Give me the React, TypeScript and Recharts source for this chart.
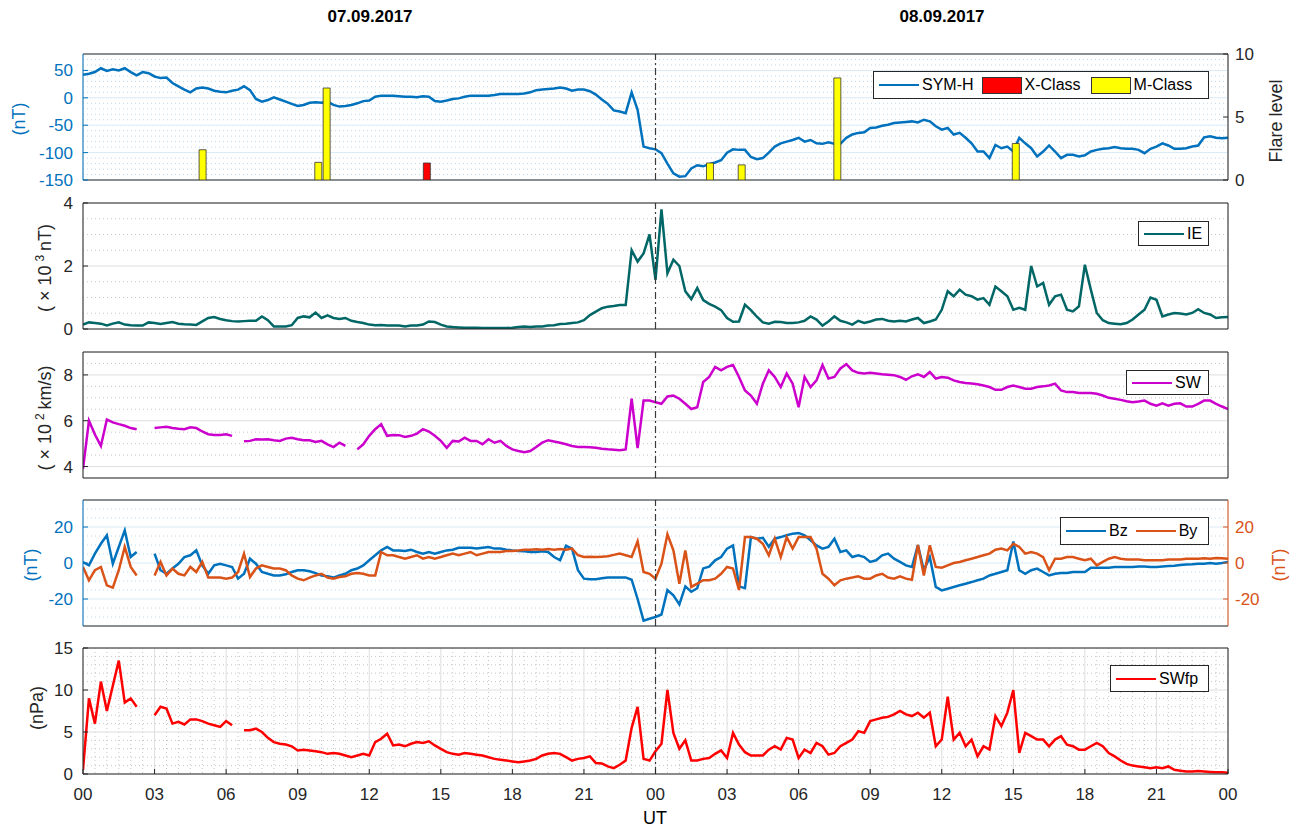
import React from "react";
import {
  ComposedChart,
  Line,
  Bar,
  Cell,
  XAxis,
  YAxis,
  CartesianGrid,
  ReferenceLine,
} from "recharts";

// hours since 07.09.2017 00 UT, 15 min steps (0 .. 48)
const hours: number[] = Array.from({ length: 193 }, (_, i) => i / 4);

// SYM-H (nT)
const symH = [
  42, 44, 47, 54, 49, 52, 50, 54, 47, 41, 47, 45,
  39, 36, 37, 27, 21, 15, 10, 17, 19, 17, 13, 11,
  10, 13, 15, 21, 14, -2, -7, -4, 1, -3, -7, -11,
  -15, -13, -9, -8, -9, -7, -13, -16, -15, -13, -10, -6,
  -5, 2, 4, 4, 4, 3, 2, 2, 1, 3, 2, -6,
  -7, -5, -2, -1, 2, 4, 4, 4, 4, 5, 7, 7,
  7, 7, 8, 10, 14, 15, 16, 17, 19, 17, 13, 15,
  15, 12, 6, -3, -11, -23, -25, -28, 10, -22, -89, -92,
  -94, -101, -120, -138, -144, -143, -129, -123, -125, -121, -118, -114,
  -100, -94, -95, -95, -108, -112, -110, -100, -89, -83, -80, -77,
  -73, -80, -77, -83, -84, -81, -84, -84, -73, -67, -64, -63,
  -55, -54, -51, -49, -46, -45, -44, -43, -45, -40, -43, -52,
  -58, -55, -67, -64, -73, -83, -98, -98, -110, -86, -92, -89,
  -98, -73, -83, -92, -107, -98, -87, -98, -110, -104, -104, -107,
  -105, -98, -95, -93, -92, -90, -92, -93, -93, -95, -101, -93,
  -89, -83, -87, -93, -93, -92, -89, -87, -72, -70, -73, -74,
  -73,
];

// IE (x 10^3 nT)
const ie = [
  0.14, 0.21, 0.19, 0.17, 0.11, 0.17, 0.21, 0.14, 0.12, 0.11, 0.11, 0.21,
  0.19, 0.16, 0.19, 0.22, 0.17, 0.15, 0.14, 0.13, 0.24, 0.35, 0.38, 0.32,
  0.28, 0.25, 0.24, 0.25, 0.26, 0.26, 0.4, 0.28, 0.08, 0.08, 0.08, 0.12,
  0.35, 0.4, 0.37, 0.52, 0.35, 0.43, 0.35, 0.32, 0.35, 0.26, 0.22, 0.19,
  0.14, 0.12, 0.13, 0.11, 0.11, 0.11, 0.08, 0.11, 0.11, 0.14, 0.24, 0.22,
  0.14, 0.08, 0.06, 0.05, 0.04, 0.04, 0.04, 0.03, 0.03, 0.03, 0.03, 0.03,
  0.04, 0.06, 0.08, 0.06, 0.08, 0.08, 0.11, 0.12, 0.16, 0.17, 0.19, 0.21,
  0.28, 0.44, 0.55, 0.66, 0.71, 0.73, 0.76, 0.76, 2.5, 2.14, 2.4, 3.0,
  1.56, 3.8, 1.77, 2.2, 2.0, 1.2, 0.95, 1.3, 0.92, 0.8, 0.71, 0.6,
  0.35, 0.23, 0.24, 0.77, 0.6, 0.39, 0.21, 0.17, 0.23, 0.22, 0.19, 0.19,
  0.21, 0.26, 0.4, 0.3, 0.11, 0.24, 0.4, 0.26, 0.21, 0.14, 0.26, 0.19,
  0.24, 0.3, 0.32, 0.26, 0.24, 0.26, 0.24, 0.3, 0.35, 0.19, 0.24, 0.3,
  0.61, 1.2, 1.04, 1.25, 1.09, 1.04, 0.93, 0.98, 0.77, 1.35, 1.2, 1.04,
  0.61, 0.67, 0.61, 2.0, 1.35, 1.46, 0.77, 1.04, 1.09, 0.61, 0.56, 0.72,
  2.04, 1.25, 0.51, 0.28, 0.19, 0.17, 0.15, 0.19, 0.3, 0.46, 0.61, 1.0,
  0.93, 0.4, 0.46, 0.51, 0.49, 0.46, 0.51, 0.63, 0.51, 0.46, 0.35, 0.37,
  0.38,
];

// solar wind speed (x 10^2 km/s), null = data gap
const sw = [
  3.9, 6.0, 5.4, 4.9, 6.05, 5.93, 5.85, 5.78, 5.68, 5.63, null, null,
  5.68, 5.71, 5.74, 5.68, 5.65, 5.63, 5.71, 5.68, 5.53, 5.41, 5.38, 5.38,
  5.41, 5.34, null, 5.1, 5.12, 5.19, 5.18, 5.19, 5.15, 5.12, 5.22, 5.26,
  5.19, 5.15, 5.15, 5.07, 5.12, 4.97, 4.85, 5.04, 4.9, null, 4.75, 4.97,
  5.34, 5.63, 5.85, 5.34, 5.38, 5.37, 5.29, 5.34, 5.44, 5.63, 5.53, 5.34,
  5.12, 4.82, 5.12, 5.09, 5.26, 5.12, 5.12, 4.97, 5.19, 5.04, 5.12, 4.9,
  4.75, 4.68, 4.63, 4.68, 4.85, 5.04, 5.15, 5.09, 5.04, 4.97, 4.9, 4.85,
  4.85, 4.84, 4.82, 4.78, 4.75, 4.73, 4.71, 4.75, 6.96, 4.8, 6.88, 6.88,
  6.81, 6.74, 7.06, 7.1, 6.96, 6.74, 6.51, 6.59, 7.69, 7.91, 8.35, 8.2,
  8.35, 8.43, 7.91, 7.32, 7.1, 6.74, 7.62, 8.2, 7.91, 7.47, 8.06, 7.62,
  6.59, 7.91, 7.47, 7.76, 8.43, 7.84, 7.91, 8.28, 8.47, 8.2, 8.09, 8.06,
  8.09, 8.06, 8.03, 8.01, 7.99, 7.91, 7.79, 7.94, 8.03, 7.91, 8.13, 7.84,
  7.91, 7.88, 7.76, 7.69, 7.65, 7.62, 7.59, 7.54, 7.47, 7.35, 7.35, 7.47,
  7.54, 7.47, 7.4, 7.4, 7.47, 7.5, 7.54, 7.62, 7.32, 7.25, 7.25, 7.21,
  7.21, 7.21, 7.18, 7.1, 7.0, 6.96, 6.91, 6.85, 6.81, 6.84, 6.88, 6.74,
  6.66, 6.76, 6.66, 6.74, 6.76, 6.62, 6.62, 6.74, 6.88, 6.88, 6.74, 6.62,
  6.51,
];

// IMF Bz (nT)
const bz = [
  0.5, -1.3, 5.2, 10.7, 15.4, -0.4, 8.9, 18.1, 3.3, 6.1, null, null,
  5.2, -4, -6, -3, -0.4, 3.3, 4.3, 7.0, -1.3, -6, -1.3, -0.4,
  -1.3, -2.2, -8.7, -6, 2.4, -0.4, -5, -6, -6.9, -6.9, -6.3, -5,
  -4, -4, -4.6, -5.6, -6.9, -7.4, -8.1, -6.9, -6, -4, -3.1, -1.3,
  1.5, 4.3, 7, 8.9, 7, 7, 6.7, 7.4, 6.1, 5.2, 6.1, 5.2,
  6.1, 7, 7.4, 8.5, 8.5, 8.5, 8, 8.5, 8.9, 8, 8, 7.4,
  7, 6.7, 6.5, 6.1, 6.1, 6.5, 6.1, 3.3, 1.5, 9.6, 8, -4,
  -8.7, -9, -9, -8.5, -8.1, -8, -8, -8, -9.3, -20, -32, -31,
  -30, -28.6, -15, -18, -23, -13, -16, -14, -3, -2, 1.5, 3.3,
  8, 9.8, -13, -14, 14.4, 13.5, 14, 9, 13.5, 14.4, 15.4, 16.3,
  16.7, 15.4, 12.6, 9.8, 8, 8.9, 13.5, 6.1, 7, 3.3, 4.3, 3.3,
  0.6, 1.5, 4.3, 5.2, 2.4, 0.6, -1.3, -2.2, 10, -4, 3.3, -13.3,
  -15.2, -14.3, -13.3, -12.4, -11.5, -10.6, -9.6, -8.7, -6.9, -6, -5, -4,
  12, -4, -6, -4, -3.1, -5, -6.9, -6, -5.6, -5.6, -5, -5,
  -5, -2.6, -2.6, -2.6, -2.6, -2.2, -2.2, -2.2, -2.2, -1.9, -1.9, -2.2,
  -2.2, -1.9, -1.7, -1.5, -1.1, -0.9, -0.7, -0.4, -0.4, 0, -0.4, 0,
  0.6,
];

// IMF By (nT)
const by = [
  -2.2, -9.6, -4, -2.2, -12.4, -13.7, -4, 8.9, -2.2, -6.9, null, null,
  -6.9, 0.6, -6.9, -3.1, -6, -6.9, -2.2, -5, 0.6, -8.1, -8.1, -8.1,
  -8.7, -8.1, -5, 5.2, -7.8, -3.1, -1.3, -2.2, -3.1, -3.1, -4, -6.9,
  -8.7, -9.6, -8.1, -6.9, -6, -8.1, -8.7, -7.8, -7.4, -6, -5.6, -6,
  -6.9, -6.9, 6.1, 4.3, 4.3, 3.3, 2.4, 3.3, 4.3, 2.4, 3.3, 2.4,
  3.3, 4.3, 5.2, 4.3, 5.2, 6.1, 4.3, 5.2, 6.1, 6.1, 6.1, 6.7,
  6.7, 7, 7.4, 7.4, 7.6, 7.4, 7.8, 7.4, 7.8, 7.4, 8, 4.3,
  3.3, 3.5, 3.3, 3.5, 3.7, 4.5, 5.2, 4.3, 3.3, 12, -5, -6,
  -8.7, -0.4, 16, 7, -11.5, 7, -13.3, -11.5, -9.6, -9.6, -8.7, -6,
  -2.2, -3.1, -15, 14.4, 14.4, 13.5, 10.7, 4.3, 13.5, 3.3, 14.4, 8,
  14.4, 14.4, 14.4, 8, -6, -8.7, -12.4, -9.6, -8.7, -8.1, -7.4, -8.7,
  -8.7, -6.9, -6, -8.1, -8.7, -7.4, -8.7, -9.3, 10, -7, 9.8, -2.2,
  -2.6, -1.3, 0, 0.6, 1.5, 2.4, 3.3, 4.3, 5.2, 7.4, 8, 7,
  10.7, 8.9, 5.2, 6.1, 5.2, 3.3, -4, 2.4, 2.4, 3.3, 3.3, 2.4,
  1.5, 2.4, -1.3, 0.6, 2.4, 3.3, 2.4, 1.9, 1.9, 1.9, 1.5, 1.5,
  1.5, 1.5, 1.9, 1.9, 2, 2.4, 2.4, 2.4, 2.6, 2.4, 2.8, 2.6,
  2.4,
];

// solar wind flow pressure (nPa)
const swfp = [
  0.5, 9.0, 6.0, 11.0, 7.5, 10.5, 13.5, 8.5, 9.0, 8.0, null, null,
  7.0, 8.0, 7.8, 6.0, 6.2, 5.9, 6.5, 6.5, 6.3, 6.0, 5.8, 5.6,
  6.3, 5.8, null, 5.2, 5.2, 5.4, 5.0, 4.3, 3.8, 3.6, 3.5, 3.3,
  2.8, 2.9, 2.8, 2.7, 2.6, 2.4, 2.5, 2.4, 2.2, 2.0, 2.2, 2.4,
  2.2, 3.8, 4.2, 4.8, 3.4, 3.5, 3.3, 3.6, 3.8, 3.7, 3.9, 3.4,
  3.0, 2.6, 2.4, 2.3, 2.5, 2.4, 2.3, 2.2, 2.0, 1.8, 1.7, 1.6,
  1.5, 1.4, 1.5, 1.6, 1.8, 2.2, 2.4, 2.5, 2.4, 2.0, 1.6, 1.8,
  1.9, 2.1, 1.3, 1.25, 0.9, 0.7, 1.1, 1.6, 5.5, 8.0, 1.8, 1.6,
  2.7, 3.6, 10.0, 4.9, 3.0, 4.0, 1.6, 1.6, 1.8, 1.9, 2.4, 2.8,
  1.9, 4.9, 3.5, 2.6, 2.2, 2.2, 2.2, 2.9, 3.3, 2.9, 4.3, 4.1,
  1.9, 2.9, 2.5, 3.7, 3.3, 2.3, 2.5, 3.3, 3.7, 4.1, 5.1, 4.9,
  6.3, 6.5, 6.7, 6.8, 7.1, 7.5, 7.1, 6.9, 7.3, 6.7, 7.3, 3.3,
  4.1, 9.2, 4.1, 4.9, 3.3, 4.1, 2.1, 3.3, 2.9, 6.9, 5.7, 7.3,
  10.0, 2.5, 4.9, 4.5, 4.1, 4.1, 3.3, 4.1, 4.5, 3.5, 3.3, 2.9,
  2.9, 3.3, 3.7, 3.3, 2.5, 2.1, 1.6, 1.2, 1.0, 0.9, 0.8, 0.7,
  0.8, 0.7, 0.9, 0.5, 0.4, 0.3, 0.3, 0.35, 0.3, 0.25, 0.2, 0.2,
  0.15,
];

// solar flares: time (h), level, class
const flareTimes = [5.0, 9.85, 10.2, 14.4, 26.27, 27.6, 31.61, 39.09];
const flareLevels = [2.4, 1.4, 7.3, 1.35, 1.35, 1.2, 8.1, 2.9];
const flareClasses = ["M", "M", "M", "X", "M", "M", "M", "M"];

const xTicks = [0, 3, 6, 9, 12, 15, 18, 21, 24, 27, 30, 33, 36, 39, 42, 45, 48];
const xMinor = hours.filter((h) => h % 0.5 === 0 && h % 3 !== 0);

const symTicks = [-150, -100, -50, 0, 50];
const symMinor = [-140, -130, -120, -110, -90, -80, -70, -60, -40, -30, -20, -10, 10, 20, 30, 40, 60, 70];
const flareTicks = [0, 5, 10];
const ieTicks = [0, 2, 4];
const ieMinor = [0.5, 1, 1.5, 2.5, 3, 3.5];
const swTicks = [4, 6, 8];
const swMinor = [4.5, 5, 5.5, 6.5, 7, 7.5, 8.5];
const bTicks = [-20, 0, 20];
const bMinor = [-30, -25, -15, -10, -5, 5, 10, 15, 25, 30];
const pTicks = [0, 5, 10, 15];
const pMinor = [1, 2, 3, 4, 6, 7, 8, 9, 11, 12, 13, 14];

const rows = hours.map((t, i) => ({
  t,
  symh: symH[i],
  ie: ie[i],
  sw: sw[i],
  bz: bz[i],
  by: by[i],
  swfp: swfp[i],
}));

const flareRows = flareTimes.map((t, i) => ({
  t,
  level: flareLevels[i],
  cls: flareClasses[i],
}));

const FONT = '"Liberation Sans", Arial, Helvetica, sans-serif';
const DARK = "#262626";
const BLUE = "#0072BD";
const ORANGE = "#D95319";
const W = 1304;
const PLOT_H = 126;
const PAD = 10;
const TOPS = [54, 203, 352, 500, 648];
const LW = 2.5;
const TICK_FS = 17;

const fmtHour = (v: number) => String(v % 24).padStart(2, "0");

type PanelProps = {
  top: number;
  yDomain: [number, number];
  yTicks: number[];
  yMinor: number[];
  leftColor?: string;
  blueGrid?: boolean;
  right?: { domain: [number, number]; ticks: number[]; color: string };
  last?: boolean;
  children?: React.ReactNode;
};

function Panel({ top, yDomain, yTicks, yMinor, leftColor = DARK, blueGrid = false, right, last = false, children }: PanelProps) {
  const bottomH = last ? 50 : PAD;
  const hMajor = blueGrid ? "#d9eaf5" : "#dedede";
  const hMinor = blueGrid ? "#bcd8ec" : "#c6c6c6";
  return (
    <div style={{ position: "absolute", left: 0, top: top - PAD }}>
      <ComposedChart width={W} height={PAD + PLOT_H + bottomH} data={rows} margin={{ top: 0, right: 0, bottom: 0, left: 0 }}>
        <XAxis
          xAxisId="x"
          dataKey="t"
          type="number"
          domain={[0, 48]}
          ticks={xTicks}
          interval={0}
          height={bottomH}
          tickSize={-5}
          tickMargin={19}
          tickFormatter={fmtHour}
          tick={last ? { fill: DARK, fontSize: TICK_FS, fontFamily: FONT } : false}
          stroke={DARK}
          allowDataOverflow
        />
        <XAxis
          xAxisId="xt"
          orientation="top"
          dataKey="t"
          type="number"
          domain={[0, 48]}
          ticks={xTicks}
          interval={0}
          height={PAD}
          tickSize={-5}
          tick={false}
          stroke={DARK}
          allowDataOverflow
        />
        <YAxis
          yAxisId="l"
          type="number"
          domain={yDomain}
          ticks={yTicks}
          interval={0}
          width={83}
          tickSize={-5}
          tickMargin={15}
          stroke={leftColor}
          tick={{ fill: leftColor, fontSize: TICK_FS, fontFamily: FONT }}
          allowDataOverflow
        />
        <YAxis
          yAxisId="r"
          orientation="right"
          type="number"
          domain={right ? right.domain : yDomain}
          ticks={right ? right.ticks : yTicks}
          interval={0}
          width={76}
          tickSize={-5}
          tickMargin={12}
          stroke={right ? right.color : DARK}
          tick={right ? { fill: right.color, fontSize: TICK_FS, fontFamily: FONT } : false}
          allowDataOverflow
        />
        <CartesianGrid xAxisId="x" yAxisId="l" horizontal={false} verticalValues={xMinor} stroke="#c6c6c6" strokeDasharray="1 3" />
        <CartesianGrid xAxisId="x" yAxisId="l" vertical={false} horizontalValues={yMinor} stroke={hMinor} strokeDasharray="1 3" />
        <CartesianGrid xAxisId="x" yAxisId="l" horizontal={false} stroke="#dedede" />
        <CartesianGrid xAxisId="x" yAxisId="l" vertical={false} stroke={hMajor} />
        {children}
        <ReferenceLine xAxisId="x" yAxisId="l" x={24} stroke="#3a3a3a" strokeWidth={1.2} strokeDasharray="7 3 2 3" />
      </ComposedChart>
    </div>
  );
}

function FlareBars() {
  return (
    <div style={{ position: "absolute", left: 0, top: TOPS[0] - PAD }}>
      <ComposedChart width={W} height={PAD + PLOT_H + PAD} data={flareRows} margin={{ top: PAD, right: 76, bottom: PAD, left: 83 }}>
        <XAxis dataKey="t" type="number" domain={[0, 48]} hide allowDataOverflow />
        <YAxis type="number" domain={[0, 10]} hide allowDataOverflow />
        <Bar dataKey="level" barSize={7} stroke="#333333" strokeWidth={0.8} isAnimationActive={false}>
          {flareRows.map((f, i) => (
            <Cell key={`flare-${i}`} fill={f.cls === "X" ? "#ff0000" : "#ffff00"} />
          ))}
        </Bar>
      </ComposedChart>
    </div>
  );
}

function LegendBox({ left, top, width, height, children }: { left: number; top: number; width: number; height: number; children: React.ReactNode }) {
  return (
    <div
      style={{
        position: "absolute",
        left,
        top,
        width,
        height,
        boxSizing: "border-box",
        border: `1px solid ${DARK}`,
        background: "#fff",
        display: "flex",
        alignItems: "center",
        paddingLeft: 5,
        fontFamily: FONT,
        fontSize: 16,
        color: "#000",
        whiteSpace: "nowrap",
      }}
    >
      {children}
    </div>
  );
}

function LineKey({ color, label, gap = 0 }: { color: string; label: string; gap?: number }) {
  return (
    <span style={{ display: "flex", alignItems: "center", marginRight: gap }}>
      <span style={{ width: 40, height: 0, borderTop: `2.5px solid ${color}`, marginRight: 3 }} />
      {label}
    </span>
  );
}

function RectKey({ color, label, gap = 0 }: { color: string; label: string; gap?: number }) {
  return (
    <span style={{ display: "flex", alignItems: "center", marginRight: gap }}>
      <span style={{ width: 40, height: 17, background: color, border: "1px solid #333", boxSizing: "border-box", marginRight: 3 }} />
      {label}
    </span>
  );
}

function AxisLabel({ x, y, color = DARK, children }: { x: number; y: number; color?: string; children: React.ReactNode }) {
  return (
    <div
      style={{
        position: "absolute",
        left: x,
        top: y,
        transform: "translate(-50%, -50%) rotate(-90deg)",
        fontFamily: FONT,
        fontSize: 18,
        color,
        whiteSpace: "nowrap",
      }}
    >
      {children}
    </div>
  );
}

function Title({ x, y, children, bold = false, size = 17 }: { x: number; y: number; children: React.ReactNode; bold?: boolean; size?: number }) {
  return (
    <div
      style={{
        position: "absolute",
        left: x,
        top: y,
        transform: "translate(-50%, -50%)",
        fontFamily: FONT,
        fontSize: size,
        fontWeight: bold ? "bold" : "normal",
        color: "#000",
        whiteSpace: "nowrap",
      }}
    >
      {children}
    </div>
  );
}

const supStyle: React.CSSProperties = { fontSize: 12, verticalAlign: "super", margin: "0 4px" };

export default function App() {
  return (
    <div style={{ position: "absolute", left: 0, top: 0, width: W, height: 828, background: "#fff", overflow: "hidden" }}>
      <Title x={370} y={17} bold>07.09.2017</Title>
      <Title x={942} y={17} bold>08.09.2017</Title>

      {/* SYM-H + flares */}
      <Panel
        top={TOPS[0]}
        yDomain={[-150, 80]}
        yTicks={symTicks}
        yMinor={symMinor}
        leftColor={BLUE}
        blueGrid
        right={{ domain: [0, 10], ticks: flareTicks, color: DARK }}
      >
        <Line xAxisId="x" yAxisId="l" dataKey="symh" stroke={BLUE} strokeWidth={LW} dot={false} isAnimationActive={false} />
      </Panel>
      <FlareBars />

      {/* IE */}
      <Panel top={TOPS[1]} yDomain={[0, 4]} yTicks={ieTicks} yMinor={ieMinor}>
        <Line xAxisId="x" yAxisId="l" dataKey="ie" stroke="#006666" strokeWidth={LW} dot={false} isAnimationActive={false} />
      </Panel>

      {/* SW speed */}
      <Panel top={TOPS[2]} yDomain={[3.5, 9]} yTicks={swTicks} yMinor={swMinor}>
        <Line xAxisId="x" yAxisId="l" dataKey="sw" stroke="#cc00cc" strokeWidth={LW} dot={false} isAnimationActive={false} />
      </Panel>

      {/* Bz / By */}
      <Panel
        top={TOPS[3]}
        yDomain={[-35, 35]}
        yTicks={bTicks}
        yMinor={bMinor}
        leftColor={BLUE}
        blueGrid
        right={{ domain: [-35, 35], ticks: bTicks, color: ORANGE }}
      >
        <Line xAxisId="x" yAxisId="l" dataKey="bz" stroke={BLUE} strokeWidth={LW} dot={false} isAnimationActive={false} />
        <Line xAxisId="x" yAxisId="r" dataKey="by" stroke={ORANGE} strokeWidth={LW} dot={false} isAnimationActive={false} />
      </Panel>

      {/* SW flow pressure */}
      <Panel top={TOPS[4]} yDomain={[0, 15]} yTicks={pTicks} yMinor={pMinor} last>
        <Line xAxisId="x" yAxisId="l" dataKey="swfp" stroke="#ff0000" strokeWidth={LW} dot={false} isAnimationActive={false} />
      </Panel>

      {/* legends */}
      <LegendBox left={873} top={71} width={336} height={28}>
        <LineKey color={BLUE} label="SYM-H" gap={8} />
        <RectKey color="#ff0000" label="X-Class" gap={10} />
        <RectKey color="#ffff00" label="M-Class" />
      </LegendBox>
      <LegendBox left={1138} top={221} width={71} height={25}>
        <LineKey color="#006666" label="IE" />
      </LegendBox>
      <LegendBox left={1126} top={370} width={83} height={25}>
        <LineKey color="#cc00cc" label="SW" />
      </LegendBox>
      <LegendBox left={1060} top={517} width={149} height={28}>
        <LineKey color={BLUE} label="Bz" gap={8} />
        <LineKey color={ORANGE} label="By" />
      </LegendBox>
      <LegendBox left={1110} top={665} width={99} height={27}>
        <LineKey color="#ff0000" label="SWfp" />
      </LegendBox>

      {/* axis labels */}
      <AxisLabel x={19} y={119} color={BLUE}>(nT)</AxisLabel>
      <AxisLabel x={1276} y={121}>Flare level</AxisLabel>
      <AxisLabel x={44} y={268}>
        ( × 10<span style={supStyle}>3</span>nT)
      </AxisLabel>
      <AxisLabel x={44} y={418}>
        ( × 10<span style={supStyle}>2</span>km/s)
      </AxisLabel>
      <AxisLabel x={31} y={565} color={BLUE}>(nT)</AxisLabel>
      <AxisLabel x={1279} y={565} color={ORANGE}>(nT)</AxisLabel>
      <AxisLabel x={37} y={708}>(nPa)</AxisLabel>
      <Title x={655} y={818} size={18}>UT</Title>
    </div>
  );
}
